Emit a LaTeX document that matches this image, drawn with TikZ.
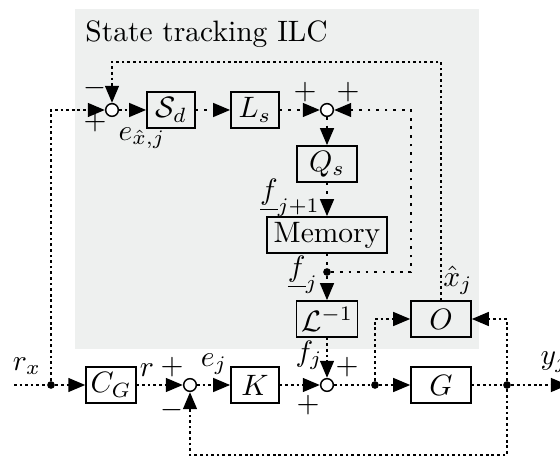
\documentclass[tikz,border=0pt]{standalone}
\usetikzlibrary{arrows.meta}
\definecolor{ilcgray}{RGB}{238,240,239}
\tikzset{
  blockbox/.style={draw, line width=0.5pt, minimum width=16.3pt, minimum height=12.2pt, inner sep=1.5pt},
  wideblock/.style={blockbox, minimum width=20.3pt},
  sumnode/.style={circle, draw, fill=white, line width=0.5pt, minimum size=4.3pt, inner sep=0pt},
  branch/.style={circle, fill=black, minimum size=2.6pt, inner sep=0pt},
  sig/.style={densely dotted, line width=0.9pt},
  ilcsig/.style={dotted, line width=0.9pt},
  arr/.style={-{Triangle[length=5.8pt,width=4.6pt]}},
}
\begin{document}
\begin{tikzpicture}[x=0.339pt, y=-0.339pt]
\useasboundingbox (0,0) rectangle (560,458);
\fill[ilcgray] (75,9) rectangle (479,349);
\node[anchor=base west] (title) at (75,42) {State tracking ILC};
% ILC blocks
\node[sumnode] (sum1) at (112,110) {};
\node[blockbox] (Sd) at (171,110) {$\mathcal{S}_d$};
\node[blockbox] (Ls) at (255,110) {$L_s$};
\node[sumnode] (sum2) at (327,110) {};
\node[wideblock] (Qs) at (327,164) {$Q_s$};
\node[blockbox, minimum width=40.7pt] (mem) at (327,235) {Memory};
\node[branch] (fdot) at (327,272) {};
\node[wideblock] (Linv) at (327,319) {$\mathcal{L}^{-1}$};
\node[wideblock] (O) at (441,319) {$O$};
% loop blocks
\coordinate (in) at (14,385);
\node[branch] (rdot) at (51,385) {};
\node[blockbox] (CG) at (111,385) {$C_G$};
\node[sumnode] (sum4) at (190,385) {};
\node[blockbox] (K) at (255,385) {$K$};
\node[sumnode] (sum3) at (327,385) {};
\node[branch] (pdot) at (375,385) {};
\node[wideblock] (G) at (441,385) {$G$};
\node[branch] (ydot) at (507,385) {};
\coordinate (out) at (568,385);
\coordinate (topc) at (441,62);
\coordinate (rc) at (411,110);
\coordinate (fbk) at (507,455);
% connections
\draw[sig] (in) -- (rdot);
\draw[sig, arr] (rdot) -- (CG);
\draw[sig, arr] (rdot) |- (sum1.west);
\draw[sig, arr] (sum1) -- (Sd);
\draw[ilcsig, arr] (Sd) -- (Ls);
\draw[ilcsig, arr] (Ls) -- (sum2);
\draw[ilcsig, arr] (fdot) -| (rc) -- (sum2.east);
\draw[ilcsig, arr] (sum2) -- (Qs);
\draw[ilcsig, arr] (Qs) -- (mem);
\draw[ilcsig] (mem) -- (fdot);
\draw[ilcsig, arr] (fdot) -- (Linv);
\draw[sig, arr] (Linv) -- (sum3);
\draw[sig, arr] (CG) -- (sum4);
\draw[sig, arr] (sum4) -- (K);
\draw[sig, arr] (K) -- (sum3);
\draw[sig] (sum3) -- (pdot);
\draw[sig, arr] (pdot) -- (G);
\draw[sig, arr] (pdot) |- (O.west);
\draw[sig] (G) -- (ydot);
\draw[sig, arr] (ydot) -- (out);
\draw[sig, arr] (ydot) |- (O.east);
\draw[sig, arr] (ydot) -- (fbk) -| (sum4.south);
\draw[sig, arr] (O.north) -- (topc) -| (sum1.north);
% labels
\node (lm1) at (95,88) {$-$};
\node (lp1) at (95,122) {$+$};
\node (lex) at (142,138) {$e_{\hat{x},j}$};
\node (lp2a) at (305,92) {$+$};
\node (lp2b) at (348,92) {$+$};
\node (lfj1) at (290,198) {$\underline{f}_{j+1}$};
\node (lfj) at (303,275) {$\underline{f}_{j}$};
\node (lxh) at (458,280) {$\hat{x}_j$};
\node (lrx) at (27,366) {$r_x$};
\node (lr) at (147,370) {$r$};
\node (lp4) at (172,367) {$+$};
\node (lm4) at (172,410) {$-$};
\node (lej) at (214,364) {$e_j$};
\node (lf) at (309,355) {$f_j$};
\node (lp3a) at (347,367) {$+$};
\node (lp3b) at (308,405) {$+$};
\node (ly) at (554,362) {$y_j$};
\end{tikzpicture}
\end{document}
